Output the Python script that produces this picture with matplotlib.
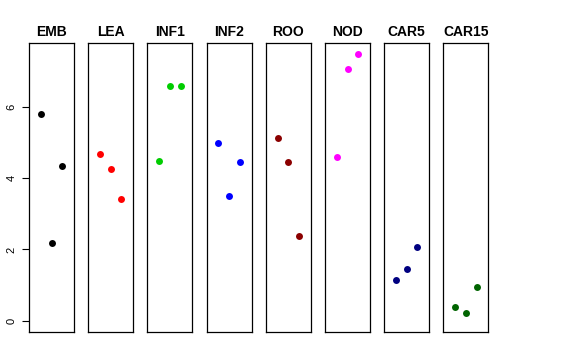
import matplotlib

matplotlib.use("Agg")
import matplotlib.pyplot as plt

plt.rcParams["font.family"] = ["Liberation Sans", "DejaVu Sans"]

GROUPS = ["EMB", "LEA", "INF1", "INF2", "ROO", "NOD", "CAR5", "CAR15"]
VALUES = [
    [5.80, 2.18, 4.35],
    [4.69, 4.25, 3.42],
    [4.49, 6.59, 6.59],
    [4.99, 3.50, 4.47],
    [5.12, 4.45, 2.39],
    [4.60, 7.06, 7.50],
    [1.15, 1.45, 2.08],
    [0.37, 0.22, 0.95],
]
COLORS = ["black", "#FF0000", "#00CD00", "#0000FF", "#8B0000", "#FF00FF", "#000080", "#006400"]
YTICKS = [0, 2, 4, 6]

W, H = 576, 360
fig = plt.figure(figsize=(W / 100, H / 100), dpi=100)

left0, step, pw = 29, 59.2, 45
top, bottom = 43, 332
for i, (name, vals, col) in enumerate(zip(GROUPS, VALUES, COLORS)):
    x0 = left0 + i * step
    ax = fig.add_axes([x0 / W, (H - bottom) / H, pw / W, (bottom - top) / H])
    ax.plot([1, 2, 3], vals, "o", color=col, ms=5, mec="none")
    ax.set_xlim(2 - 2.12, 2 + 2.12)
    ax.set_ylim(-0.32, 7.8)
    ax.set_xticks([])
    for s in ax.spines.values():
        s.set_linewidth(0.9)
    ax.set_title(name, fontsize=10, fontweight="bold", pad=5)
    if i == 0:
        ax.set_yticks(YTICKS)
        ax.tick_params(axis="y", length=5, width=0.8, labelsize=8, pad=4)
        for lab in ax.get_yticklabels():
            lab.set_rotation(90)
            lab.set_va("center")
    else:
        ax.set_yticks([])

fig.savefig("out.png", dpi=100)
